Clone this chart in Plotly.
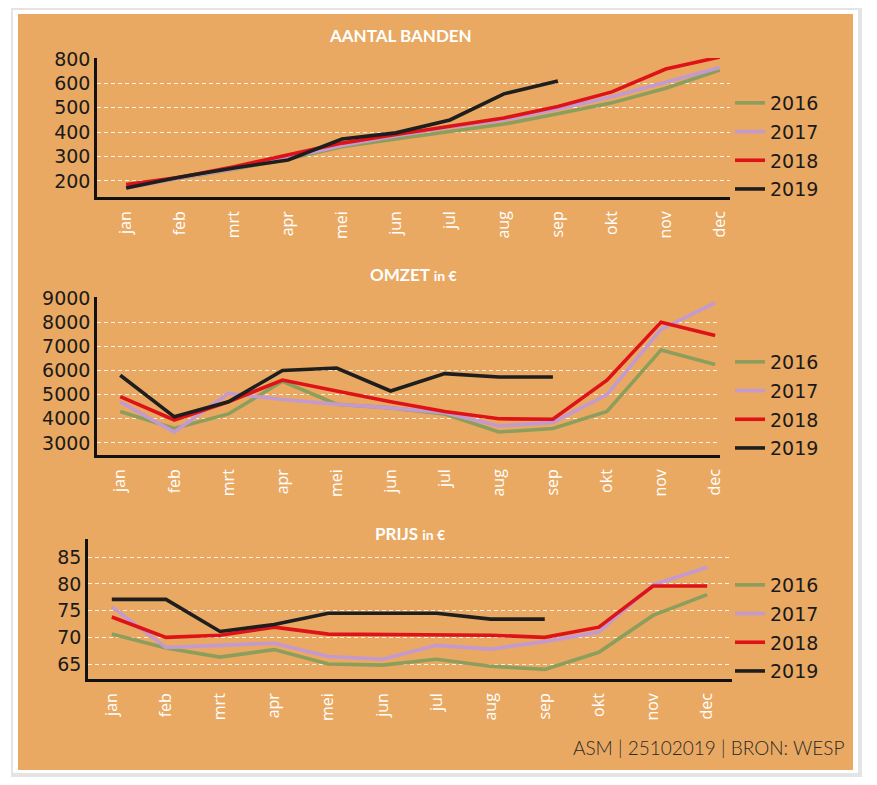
import plotly.graph_objects as go

# the page body has an 8px margin, so the figure is 8px smaller and every
# position below is given in window pixels and shifted back by 8
OFF = 8
W, H = 877 - OFF, 785 - OFF

months = ["jan", "feb", "mrt", "apr", "mei", "jun", "jul", "aug", "sep", "okt", "nov", "dec"]
years = ["2016", "2017", "2018", "2019"]
colors = {"2016": "#8C9E5C", "2017": "#C39AD0", "2018": "#DE1318", "2019": "#1E1E1E"}

# aantal banden
banden_2016 = [175, 213, 248, 290, 340, 372, 403, 433, 475, 520, 580, 655]
banden_2017 = [170, 213, 250, 295, 345, 385, 420, 450, 495, 545, 605, 665]
banden_2018 = [185, 215, 258, 305, 355, 390, 425, 458, 505, 565, 659, 708]
banden_2019 = [171, 216, 253, 286, 372, 397, 450, 557, 610]

# omzet in euro
omzet_2016 = [4300, 3600, 4200, 5550, 4600, 4450, 4200, 3450, 3600, 4300, 6850, 6250]
omzet_2017 = [4700, 3450, 5050, 4800, 4600, 4450, 4250, 3700, 3850, 5000, 7700, 8800]
omzet_2018 = [4920, 3950, 4700, 5600, 5150, 4700, 4300, 4000, 3980, 5600, 8000, 7450]
omzet_2019 = [5800, 4080, 4700, 6000, 6100, 5150, 5870, 5730, 5730]

# prijs in euro
prijs_2016 = [70.6, 68.0, 66.3, 67.7, 65.0, 64.8, 65.9, 64.6, 64.0, 67.2, 74.1, 78.0]
prijs_2017 = [75.7, 68.1, 68.5, 68.9, 66.4, 65.9, 68.5, 67.8, 69.2, 71.0, 79.8, 83.1]
prijs_2018 = [73.8, 70.0, 70.4, 71.9, 70.6, 70.5, 70.5, 70.4, 70.0, 71.9, 79.6, 79.6]
prijs_2019 = [77.1, 77.1, 71.1, 72.4, 74.5, 74.5, 74.5, 73.4, 73.4]

banden_ticks = [200, 300, 400, 500, 600, 700]
banden_labels = ["200", "300", "400", "500", "600", "800"]
omzet_ticks = [3000, 4000, 5000, 6000, 7000, 8000, 9000]
prijs_ticks = [65, 70, 75, 80, 85]


def px_x(p):
    return (p - OFF) / W


def px_y(p):
    return 1 - (p - OFF) / H


panels = [
    ([banden_2016, banden_2017, banden_2018, banden_2019], "", "legend"),
    ([omzet_2016, omzet_2017, omzet_2018, omzet_2019], "2", "legend2"),
    ([prijs_2016, prijs_2017, prijs_2018, prijs_2019], "3", "legend3"),
]

fig = go.Figure()
for series, ax, leg in panels:
    for yr, vals in zip(years, series):
        fig.add_trace(go.Scatter(
            x=list(range(len(vals))), y=vals, name=yr, mode="lines",
            line=dict(color=colors[yr], width=3.6),
            xaxis="x" + ax, yaxis="y" + ax, legend=leg, legendgroup=leg + yr,
            cliponaxis=False, hoverinfo="skip",
        ))

num_font = dict(family="DejaVu Sans, sans-serif", size=19, color="#1A1A1A")
month_font = dict(family="Open Sans, sans-serif", size=16, color="white")
title_font = dict(family="Lato, sans-serif", size=17, color="white")


def xaxis(domain, rng, anchor):
    return dict(domain=domain, range=rng, anchor=anchor, tickvals=list(range(12)), ticktext=months,
                showgrid=False, showline=True, linecolor="#111", linewidth=2.5, ticks="",
                tickangle=-90, tickfont=month_font, ticklabelstandoff=5,
                zeroline=False, fixedrange=True, automargin=False)


def yaxis(domain, rng, anchor, ticks, labels=None):
    return dict(domain=domain, range=rng, anchor=anchor, tickvals=ticks,
                ticktext=labels if labels else [str(t) for t in ticks],
                showgrid=True, gridcolor="rgba(255,255,255,0.85)", gridwidth=1,
                griddash="4px,3px", showline=True, linecolor="#111", linewidth=2.5,
                ticks="", tickfont=num_font, zeroline=False, fixedrange=True,
                automargin=False)


def legend(top):
    return dict(x=px_x(730), y=px_y(top), xanchor="left", yanchor="top",
                bgcolor="rgba(0,0,0,0)", font=num_font,
                traceorder="grouped", tracegroupgap=1, itemwidth=30)


def label(text, x, y, font, xanchor="center"):
    return dict(text=text, x=px_x(x), y=px_y(y), xref="paper", yref="paper",
                xanchor=xanchor, yanchor="middle", showarrow=False, font=font)


fig.update_layout(
    width=W, height=H,
    margin=dict(l=0, r=0, t=0, b=0, pad=0, autoexpand=False),
    paper_bgcolor="white", plot_bgcolor="rgba(0,0,0,0)",
    xaxis=xaxis([px_x(97), px_x(730)], [-0.54, 11.19], "y"),
    yaxis=yaxis([px_y(197), px_y(58)], [134, 704], "x", banden_ticks, banden_labels),
    xaxis2=xaxis([px_x(97), px_x(720)], [-0.43, 11.09], "y2"),
    yaxis2=yaxis([px_y(455), px_y(297)], [2500, 9040], "x2", omzet_ticks),
    xaxis3=xaxis([px_x(88), px_x(732)], [-0.44, 11.46], "y3"),
    yaxis3=yaxis([px_y(679), px_y(539)], [62.2, 88.4], "x3", prijs_ticks),
    legend=legend(84),
    legend2=legend(343),
    legend3=legend(566),
    shapes=[
        dict(type="rect", xref="paper", yref="paper", layer="below",
             x0=px_x(11), x1=px_x(862), y0=px_y(777), y1=px_y(8),
             fillcolor="#E4E4E4", line_width=0),
        dict(type="rect", xref="paper", yref="paper", layer="below",
             x0=px_x(13), x1=px_x(858), y0=px_y(773), y1=px_y(10),
             fillcolor="white", line_width=0),
        dict(type="rect", xref="paper", yref="paper", layer="below",
             x0=px_x(18), x1=px_x(853), y0=px_y(770), y1=px_y(14),
             fillcolor="#E9A962", line_width=0),
    ],
    annotations=[
        label("<b>AANTAL BANDEN</b>", 400, 35, title_font),
        label("<b>OMZET <span style='font-size:14px'>in €</span></b>", 413, 274, title_font),
        label("<b>PRIJS <span style='font-size:14px'>in €</span></b>", 410, 533, title_font),
        label("ASM | 25102019 | BRON: WESP", 846, 747,
              dict(family="Lato, sans-serif", size=19, color="#2A2A2A", weight=300), xanchor="right"),
    ],
)

fig.write_html("out.html")
